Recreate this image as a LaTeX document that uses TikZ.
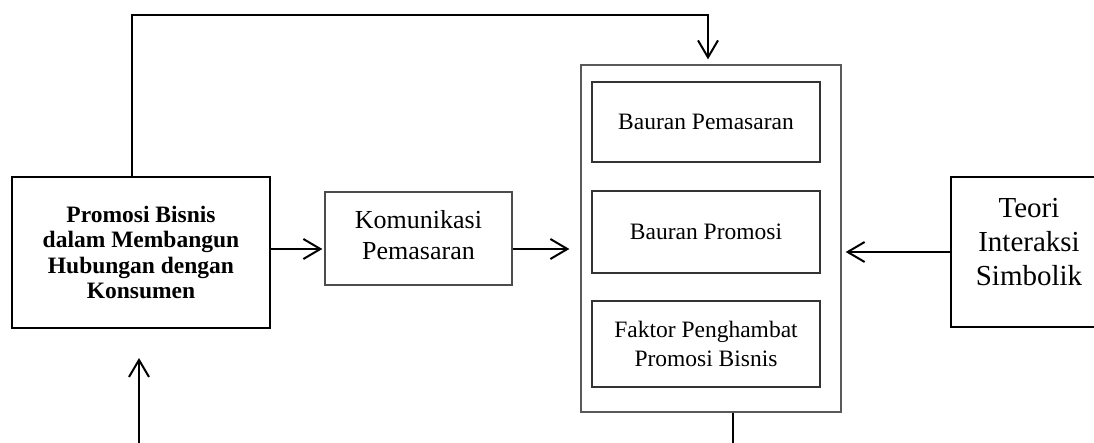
\documentclass[tikz,border=0pt]{standalone}
\usepackage{fontspec}
\setmainfont{Liberation Serif}
\usetikzlibrary{arrows.meta}

\begin{document}
\begin{tikzpicture}[x=1pt,y=-1pt]

\tikzset{BoxStyle/.style = {draw, line width=1.3pt, inner sep=0pt, align=center},
         InnerStyle/.style = {BoxStyle, draw=black!80, minimum width=228pt,
                              font=\fontsize{23.5}{29}\selectfont},
         ArrowStyle/.style = {line width=2pt,
                              -{Straight Barb[length=17pt,width=20pt,line width=2pt]}}}

\useasboundingbox (0,0) rectangle (1094,443);
\clip (0,0) rectangle (1094,443);

\node[BoxStyle, minimum width=258pt, minimum height=151pt,
      font=\bfseries\fontsize{23.5}{25.5}\selectfont] (promo) at (141,252.5)
      {Promosi Bisnis\\dalam Membangun\\Hubungan dengan\\Konsumen};
\node[BoxStyle, draw=black!70, minimum width=187pt, minimum height=93pt, text depth=8pt,
      font=\fontsize{26}{31}\selectfont] (komunikasi) at (418.5,238.5)
      {Komunikasi\\Pemasaran};
\node[BoxStyle, draw=black!65, minimum width=260pt, minimum height=347pt] (kajian) at (711,238.5) {};
\node[InnerStyle, minimum height=80pt] (bauran1) at (706,122) {Bauran Pemasaran};
\node[InnerStyle, minimum height=82pt] (bauran2) at (706,232) {Bauran Promosi};
\node[InnerStyle, minimum height=86pt] (faktor) at (706,344) {Faktor Penghambat\\Promosi Bisnis};
\node[BoxStyle, minimum width=156pt, minimum height=150pt, text depth=20pt,
      font=\fontsize{29}{34}\selectfont] (teori) at (1029,252)
      {Teori\\Interaksi\\Simbolik};

\coordinate (topL) at (132,15);
\coordinate (topR) at (708,15);
\coordinate (midL) at (0,249);
\coordinate (midR) at (0,252);
\coordinate (botL) at (139,443);
\coordinate (botT) at (139,358);
\coordinate (botR) at (733,443);

\draw[ArrowStyle] (promo.north -| topL) -- (topL) -- (topR) -- ([yshift=5pt]kajian.north -| topR);
\draw[ArrowStyle] (promo.east |- midL) -- ([xshift=-2pt]komunikasi.west |- midL);
\draw[ArrowStyle] (komunikasi.east |- midL) -- ([xshift=-11pt]kajian.west |- midL);
\draw[ArrowStyle] (teori.west |- midR) -- ([xshift=4pt]kajian.east |- midR);

\draw[ArrowStyle] (botL) -- (botT);
\draw[line width=2pt] (kajian.south -| botR) -- (botR);

\end{tikzpicture}
\end{document}
